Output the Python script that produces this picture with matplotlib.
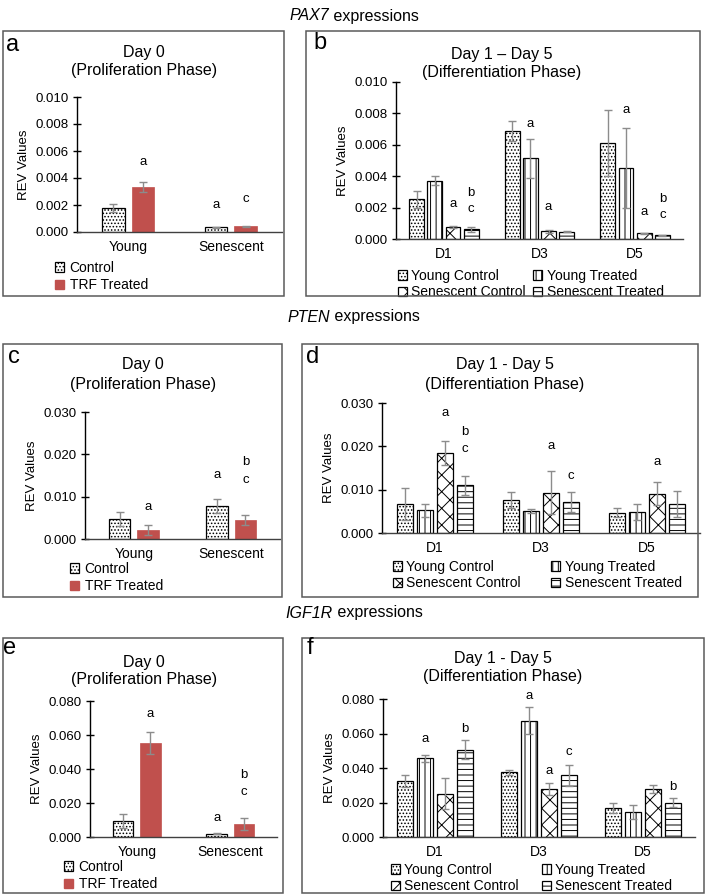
import matplotlib
matplotlib.use('Agg')
import matplotlib.pyplot as plt
from matplotlib.patches import Rectangle, Patch
import numpy as np

plt.rcParams['font.family'] = ['Liberation Sans', 'DejaVu Sans']
plt.rcParams['hatch.linewidth'] = 0.7
plt.rcParams['hatch.color'] = 'black'

# ---------------- data ----------------
day0_groups = ['Young', 'Senescent']
day0_series = ['Control', 'TRF Treated']
diff_groups = ['D1', 'D3', 'D5']
diff_series = ['Young Control', 'Young Treated', 'Senescent Control', 'Senescent Treated']

# PAX7
pax7_d0_control = [0.00178, 0.00035]
pax7_d0_control_err = [0.00032, 0.00004]
pax7_d0_trf = [0.00333, 0.00042]
pax7_d0_trf_err = [0.00035, 0.00003]
pax7_d0_letters = [(0, 1, 'a', 0.0052), (1, 0, 'a', 0.0020), (1, 1, 'c', 0.00245)]

pax7_young_control = [0.00252, 0.00689, 0.00610]
pax7_young_control_err = [0.00055, 0.00065, 0.00210]
pax7_young_treated = [0.00371, 0.00513, 0.00453]
pax7_young_treated_err = [0.00030, 0.00122, 0.00254]
pax7_sen_control = [0.00074, 0.00049, 0.00036]
pax7_sen_control_err = [0.00007, 0.00008, 0.00004]
pax7_sen_treated = [0.00061, 0.00047, 0.00023]
pax7_sen_treated_err = [0.00015, 0.00005, 0.00002]
pax7_diff_letters = [(0, 2, 'a', 0.00222), (0, 3, 'b', 0.00294), (0, 3, 'c', 0.0019),
                     (1, 1, 'a', 0.00731), (1, 2, 'a', 0.00205),
                     (2, 1, 'a', 0.00824), (2, 2, 'a', 0.00174),
                     (2, 3, 'b', 0.00252), (2, 3, 'c', 0.00153)]

# PTEN
pten_d0_control = [0.0047, 0.0078]
pten_d0_control_err = [0.0017, 0.0016]
pten_d0_trf = [0.0021, 0.0045]
pten_d0_trf_err = [0.0012, 0.0012]
pten_d0_letters = [(0, 1, 'a', 0.0076), (1, 0, 'a', 0.0151), (1, 1, 'b', 0.0182), (1, 1, 'c', 0.0139)]

pten_young_control = [0.0068, 0.0076, 0.0047]
pten_young_control_err = [0.0037, 0.0019, 0.0011]
pten_young_treated = [0.0052, 0.0051, 0.0049]
pten_young_treated_err = [0.0016, 0.0005, 0.0019]
pten_sen_control = [0.0185, 0.0093, 0.0091]
pten_sen_control_err = [0.0027, 0.0049, 0.0027]
pten_sen_treated = [0.0110, 0.0072, 0.0066]
pten_sen_treated_err = [0.0022, 0.0023, 0.0030]
pten_diff_letters = [(0, 2, 'a', 0.0276), (0, 3, 'b', 0.0233), (0, 3, 'c', 0.0194),
                     (1, 2, 'a', 0.0200), (1, 3, 'c', 0.0132),
                     (2, 2, 'a', 0.0165)]

# IGF1R
igf_d0_control = [0.0094, 0.0018]
igf_d0_control_err = [0.0041, 0.0003]
igf_d0_trf = [0.0553, 0.0076]
igf_d0_trf_err = [0.0064, 0.0036]
igf_d0_letters = [(0, 1, 'a', 0.0723), (1, 0, 'a', 0.0110), (1, 1, 'b', 0.0365), (1, 1, 'c', 0.0265)]

igf_young_control = [0.0322, 0.0374, 0.0170]
igf_young_control_err = [0.0035, 0.0015, 0.0030]
igf_young_treated = [0.0457, 0.0675, 0.0143]
igf_young_treated_err = [0.0020, 0.0077, 0.0040]
igf_sen_control = [0.0251, 0.0278, 0.0276]
igf_sen_control_err = [0.0090, 0.0034, 0.0023]
igf_sen_treated = [0.0505, 0.0357, 0.0199]
igf_sen_treated_err = [0.0055, 0.0060, 0.0025]
igf_diff_letters = [(0, 1, 'a', 0.0567), (0, 3, 'b', 0.0625),
                    (1, 1, 'a', 0.0817), (1, 2, 'a', 0.0380), (1, 3, 'c', 0.0495),
                    (2, 3, 'b', 0.0289)]

yticks_pax7 = [0.000, 0.002, 0.004, 0.006, 0.008, 0.010]
yticks_pten = [0.000, 0.010, 0.020, 0.030]
yticks_igf = [0.000, 0.020, 0.040, 0.060, 0.080]

# ---------------- styling ----------------
W, H = 709, 896
fig = plt.figure(figsize=(W / 100, H / 100), dpi=100)
FS = 9.5
RED = '#C0504D'
ERRC = '#8c8c8c'
diff_hatches = ['.....', '|||', 'xx', '---']


def fx(x):
    return x / W


def fy(y):
    return 1 - y / H


def ax_px(l, t, r, b):
    return fig.add_axes([l / W, 1 - b / H, (r - l) / W, (b - t) / H])


def frame(l, t, r, b):
    fig.patches.append(Rectangle((l / W, 1 - b / H), (r - l) / W, (b - t) / H,
                                 transform=fig.transFigure, fill=False,
                                 edgecolor='#5a5a5a', linewidth=1.1, zorder=0))


def style_axes(ax, yticks):
    ax.set_ylim(yticks[0], yticks[-1])
    ax.set_yticks(yticks)
    ax.set_yticklabels(['%.3f' % v for v in yticks], fontsize=FS)
    for s in ['top', 'right']:
        ax.spines[s].set_visible(False)
    ax.spines['left'].set_color('black')
    ax.spines['left'].set_linewidth(1.0)
    ax.spines['bottom'].set_color('#404040')
    ax.spines['bottom'].set_linewidth(1.0)
    ax.tick_params(axis='y', direction='inout', length=6, width=1, pad=3)
    ax.tick_params(axis='x', length=0, pad=6, labelsize=FS + 0.5)
    ax.set_ylabel('REV Values', fontsize=FS, labelpad=4)
    ax.patch.set_alpha(0)


def draw_day0(ax, ctrl, ctrl_err, trf, trf_err, letters, yticks):
    x = np.arange(len(day0_groups))
    bw = 0.22
    off = [-0.145, 0.145]
    ax.bar(x + off[0], ctrl, bw, color='white', edgecolor='black', linewidth=0.9,
           hatch='.....', label=day0_series[0], zorder=2)
    ax.bar(x + off[1], trf, bw, color=RED, edgecolor=RED, linewidth=0.5,
           label=day0_series[1], zorder=2)
    ax.errorbar(x + off[0], ctrl, yerr=ctrl_err, fmt='none', ecolor=ERRC, elinewidth=1,
                capsize=3, capthick=1, zorder=3)
    ax.errorbar(x + off[1], trf, yerr=trf_err, fmt='none', ecolor=ERRC, elinewidth=1,
                capsize=3, capthick=1, zorder=3)
    for g, s, t, yv in letters:
        ax.text(g + off[s], yv, t, ha='center', va='center', fontsize=FS)
    ax.set_xlim(-0.5, len(day0_groups) - 0.5)
    ax.set_xticks(x)
    ax.set_xticklabels(day0_groups)
    style_axes(ax, yticks)


def draw_diff(ax, series, errs, letters, yticks):
    x = np.arange(len(diff_groups))
    bw = 0.155
    off = [-0.285, -0.095, 0.095, 0.285]
    for i, (vals, er) in enumerate(zip(series, errs)):
        ax.bar(x + off[i], vals, bw, color='white', edgecolor='black', linewidth=0.9,
               hatch=diff_hatches[i], label=diff_series[i], zorder=2)
        ax.errorbar(x + off[i], vals, yerr=er, fmt='none', ecolor=ERRC, elinewidth=1,
                    capsize=3, capthick=1, zorder=3)
    for g, s, t, yv in letters:
        ax.text(g + off[s], yv, t, ha='center', va='center', fontsize=FS)
    ax.set_xlim(-0.5, len(diff_groups) - 0.5)
    ax.set_xticks(x)
    ax.set_xticklabels(diff_groups)
    style_axes(ax, yticks)


def legend_day0(ax, x_px, y_px):
    h = [Patch(facecolor='white', edgecolor='black', hatch='.....', linewidth=0.9),
         Patch(facecolor=RED, edgecolor=RED)]
    ax.legend(h, day0_series, loc='upper left', bbox_to_anchor=(fx(x_px), fy(y_px)),
              bbox_transform=fig.transFigure, frameon=False, fontsize=FS + 0.5,
              handlelength=0.65, handleheight=0.65, handletextpad=0.4,
              labelspacing=0.25, borderpad=0, borderaxespad=0)


def legend_diff(ax, x_px, y_px, colsp):
    h = [Patch(facecolor='white', edgecolor='black', hatch=diff_hatches[i], linewidth=0.9)
         for i in range(4)]
    order = [0, 2, 1, 3]
    ax.legend([h[i] for i in order], [diff_series[i] for i in order], ncol=2,
              loc='upper left', bbox_to_anchor=(fx(x_px), fy(y_px)),
              bbox_transform=fig.transFigure, frameon=False, fontsize=FS + 0.5,
              handlelength=0.65, handleheight=0.65, handletextpad=0.3,
              labelspacing=0.15, columnspacing=colsp, borderpad=0, borderaxespad=0)


def panel_titles(cx, y1, y2, line1, line2):
    fig.text(fx(cx), fy(y1), line1, ha='center', va='center', fontsize=11.5)
    fig.text(fx(cx), fy(y2), line2, ha='center', va='center', fontsize=11.5)


def panel_letter(x, y, t):
    fig.text(fx(x), fy(y), t, ha='left', va='center', fontsize=17)


def gene_title(gene, y_px, cx=354):
    t1 = fig.text(0, fy(y_px), gene, style='italic', fontsize=11.5, ha='left', va='center')
    t2 = fig.text(0, fy(y_px), '\u00a0expressions', fontsize=11.5, ha='left', va='center')
    r = fig.canvas.get_renderer()
    w1 = t1.get_window_extent(r).width
    w2 = t2.get_window_extent(r).width
    x0 = cx - (w1 + w2) / 2
    t1.set_x(fx(x0))
    t2.set_x(fx(x0 + w1))


# ---------------- frames ----------------
frame(3, 31, 284, 296)
frame(306, 31, 700, 296)
frame(3, 344, 282, 597)
frame(302, 344, 698, 597)
frame(3, 638, 283, 893)
frame(302, 638, 704, 893)

# ---------------- PAX7 ----------------
gene_title('PAX7', 16)
ax_a = ax_px(77, 97, 282, 232)
draw_day0(ax_a, pax7_d0_control, pax7_d0_control_err, pax7_d0_trf, pax7_d0_trf_err,
          pax7_d0_letters, yticks_pax7)
legend_day0(ax_a, 55, 261)
panel_titles(144, 53, 71, 'Day 0', '(Proliferation Phase)')
panel_letter(6, 45, 'a')

ax_b = ax_px(396, 82, 683, 239)
draw_diff(ax_b, [pax7_young_control, pax7_young_treated, pax7_sen_control, pax7_sen_treated],
          [pax7_young_control_err, pax7_young_treated_err, pax7_sen_control_err, pax7_sen_treated_err],
          pax7_diff_letters, yticks_pax7)
legend_diff(ax_b, 398, 269, 0.55)
panel_titles(502, 55, 73, 'Day 1 \u2013 Day 5', '(Differentiation Phase)')
panel_letter(313, 43, 'b')

# ---------------- PTEN ----------------
gene_title('PTEN', 317)
ax_c = ax_px(85, 412, 280, 539)
draw_day0(ax_c, pten_d0_control, pten_d0_control_err, pten_d0_trf, pten_d0_trf_err,
          pten_d0_letters, yticks_pten)
legend_day0(ax_c, 70, 562)
panel_titles(143, 365, 384, 'Day 0', '(Proliferation Phase)')
panel_letter(8, 357, 'c')

ax_d = ax_px(382, 403, 700, 533)
draw_diff(ax_d, [pten_young_control, pten_young_treated, pten_sen_control, pten_sen_treated],
          [pten_young_control_err, pten_young_treated_err, pten_sen_control_err, pten_sen_treated_err],
          pten_diff_letters, yticks_pten)
legend_diff(ax_d, 393, 560, 2.2)
panel_titles(505, 365, 384, 'Day 1 - Day 5', '(Differentiation Phase)')
panel_letter(306, 357, 'd')

# ---------------- IGF1R ----------------
gene_title('IGF1R', 613)
ax_e = ax_px(90, 701, 277, 837)
draw_day0(ax_e, igf_d0_control, igf_d0_control_err, igf_d0_trf, igf_d0_trf_err,
          igf_d0_letters, yticks_igf)
legend_day0(ax_e, 64, 860)
panel_titles(144, 662, 679, 'Day 0', '(Proliferation Phase)')
panel_letter(3, 648, 'e')

ax_f = ax_px(383, 699, 695, 837)
draw_diff(ax_f, [igf_young_control, igf_young_treated, igf_sen_control, igf_sen_treated],
          [igf_young_control_err, igf_young_treated_err, igf_sen_control_err, igf_sen_treated_err],
          igf_diff_letters, yticks_igf)
legend_diff(ax_f, 391, 863, 1.65)
panel_titles(503, 659, 677, 'Day 1 - Day 5', '(Differentiation Phase)')
panel_letter(307, 648, 'f')

fig.savefig('out.png', dpi=100)
